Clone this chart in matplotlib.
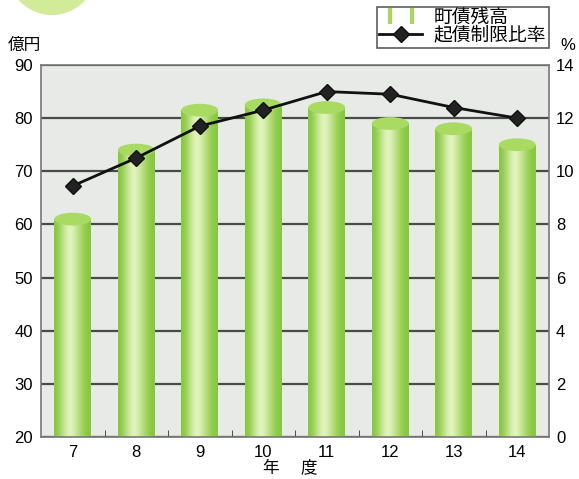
import numpy as np
import matplotlib
matplotlib.use('Agg')
import matplotlib.pyplot as plt
from matplotlib.patches import Ellipse
from matplotlib.lines import Line2D
from matplotlib.legend_handler import HandlerTuple

plt.rcParams['font.family'] = ['Liberation Sans', 'Noto Sans CJK JP', 'DejaVu Sans']

# data
years = ['7', '8', '9', '10', '11', '12', '13', '14']
debt = [61, 74, 81.5, 82.5, 82, 79, 78, 75]          # 億円
ratio = [9.45, 10.5, 11.7, 12.3, 13.0, 12.9, 12.4, 12.0]  # %

x = np.arange(len(years))
bw = 0.58

fig = plt.figure(figsize=(5.79, 4.79), dpi=100)
ax = fig.add_axes([41 / 579, 1 - 437 / 479, 508 / 579, 372 / 479])
ax.set_facecolor('#e7eae7')
ax.grid(axis='y', color='#4a4a4a', lw=1.6, zorder=1)
ax.set_axisbelow(True)

# cylinder bars with horizontal gradient
grad = np.array([[0.0, 0.35, 0.75, 1.0, 0.75, 0.45, 0.15, 0.0]])
cmap = matplotlib.colors.LinearSegmentedColormap.from_list('g', ['#86c83c', '#e9f7c6'])
bars = ax.bar(x, [d - 20 for d in debt], bw, bottom=20, color='#9fd356', zorder=2)
for xi, d, b in zip(x, debt, bars):
    im = ax.imshow(grad, extent=[xi - bw / 2, xi + bw / 2, 20, d], aspect='auto',
                   cmap=cmap, interpolation='bicubic', zorder=2.1)
    im.set_clip_path(b)
    ax.add_patch(Ellipse((xi, d), bw, 2.4, facecolor='#a9da62', edgecolor='none', zorder=2.2))
ax.set_xlim(-0.5, len(years) - 0.5)
ax.set_ylim(20, 90)
ax.set_yticks(np.arange(20, 91, 10))

ax.set_xticks(x)
ax.set_xticklabels(years)
ax.set_xticks(x[:-1] + 0.5, minor=True)
ax.tick_params(axis='x', which='major', length=0, labelsize=12, pad=6)
ax.tick_params(axis='x', which='minor', direction='in', length=5, color='#333333')
ax.tick_params(axis='y', length=0, labelsize=12, pad=6)
for s in ax.spines.values():
    s.set_color('#777777')
    s.set_linewidth(1.2)

ax2 = ax.twinx()
ax2.set_ylim(0, 14)
ax2.set_yticks(np.arange(0, 15, 2))
ax2.tick_params(axis='y', length=0, labelsize=12, pad=5)
ax2.plot(x, ratio, color='#111111', lw=2, marker='D', ms=8, mfc='#222222', mec='#111111', zorder=5)
for s in ax2.spines.values():
    s.set_visible(False)

fig.text(8 / 579, 1 - 45 / 479, '億円', fontsize=12, va='center', ha='left')
fig.text(568 / 579, 1 - 45 / 479, '%', fontsize=12, va='center', ha='center')
fig.text(290 / 579, 1 - 467 / 479, '年　 度', fontsize=12, va='center', ha='center')

# decorative circle at top left
fig.patches.append(Ellipse((52 / 579, 1 + 30 / 479), 90 / 579, 90 / 479, transform=fig.transFigure,
                           facecolor='#d2eb98', edgecolor='none'))

h_bar = (Line2D([], [], marker='|', ls='none', color='#a6d95a', ms=12, mew=3),
         Line2D([], [], marker='|', ls='none', color='#a6d95a', ms=12, mew=3))
h_line = Line2D([], [], color='#111111', lw=2, marker='D', ms=8, mfc='#222222')
leg = fig.legend([h_bar, h_line], ['町債残高', '起債制限比率'],
                 handler_map={tuple: HandlerTuple(ndivide=None, pad=0.1)},
                 loc='upper right', bbox_to_anchor=(549 / 579, 1 - 7 / 479),
                 fontsize=13.5, frameon=True, fancybox=False, edgecolor='#333333',
                 handlelength=2.3, handletextpad=0.6, borderpad=0.15, labelspacing=0.0,
                 borderaxespad=0)
leg.get_frame().set_linewidth(1.2)

fig.savefig('out.png', dpi=100)
